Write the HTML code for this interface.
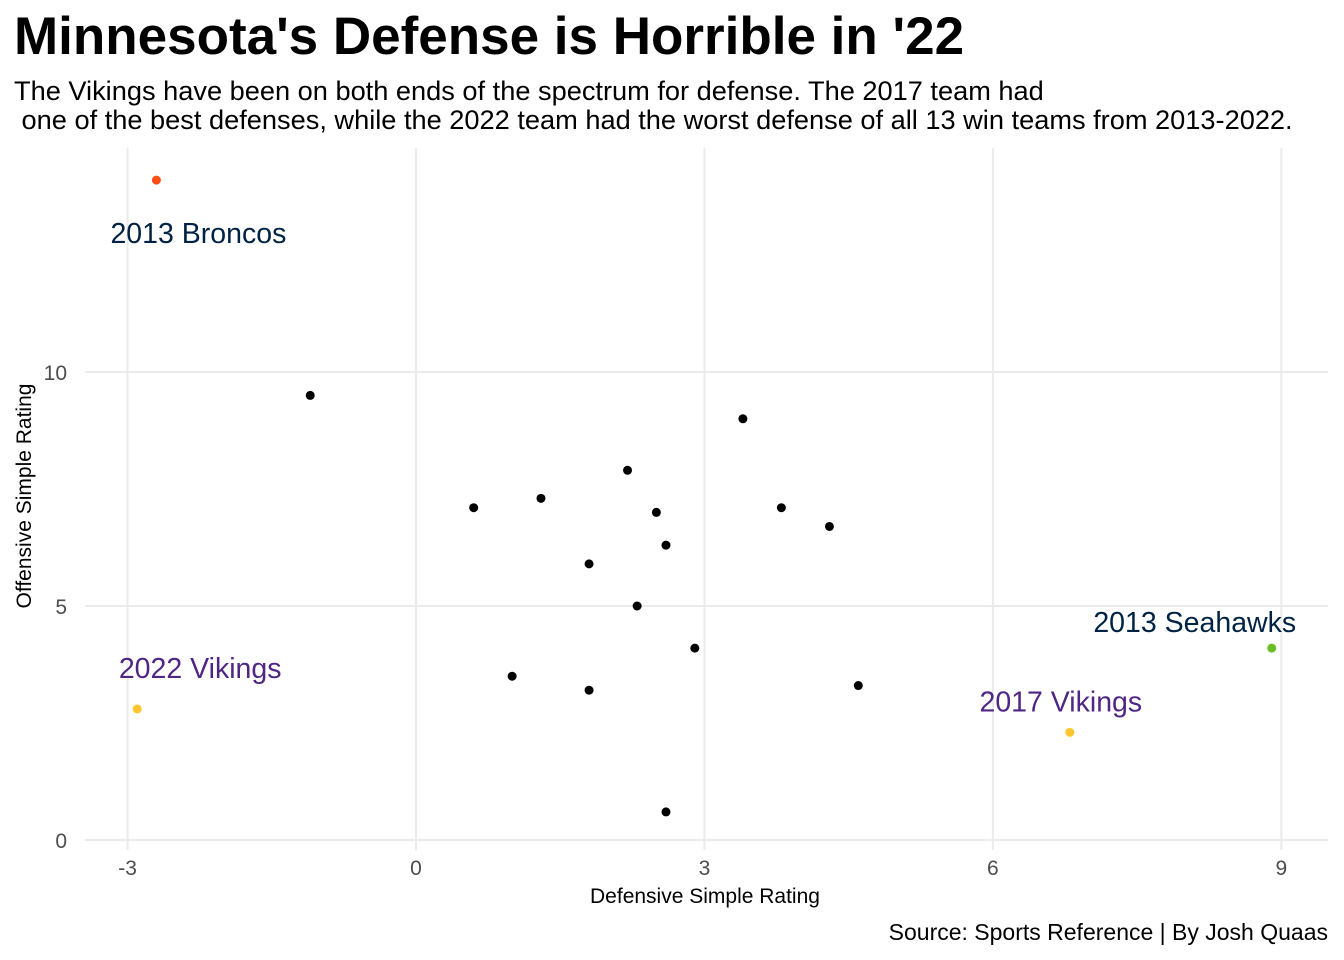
<!DOCTYPE html>
<html><head><meta charset="utf-8"><style>
body{margin:0;background:#fff;}
svg{display:block;font-family:"Liberation Sans",Arial,sans-serif;}
</style></head><body>
<svg id="chart" width="1344" height="960">
<text x="14" y="54" font-size="53" font-weight="bold" fill="#000">Minnesota's Defense is Horrible in '22</text>
<text x="14" y="100" font-size="27.2" fill="#000">The Vikings have been on both ends of the spectrum for defense. The 2017 team had</text>
<text x="14" y="129" font-size="27.2" fill="#000" xml:space="preserve"> one of the best defenses, while the 2022 team had the worst defense of all 13 win teams from 2013-2022.</text>
<g id="grid"></g><g id="axes"></g><g id="points"></g><g id="labels"></g>
<text x="705" y="903" font-size="21" text-anchor="middle" fill="#000">Defensive Simple Rating</text>
<text transform="translate(31,496) rotate(-90)" font-size="21" text-anchor="middle" fill="#000">Offensive Simple Rating</text>
<text x="1328" y="940" font-size="23" text-anchor="end" fill="#000">Source: Sports Reference | By Josh Quaas</text>
</svg>
<script>
const xs=[-1.1,3.4,2.2,0.6,1.3,2.5,3.8,4.3,2.6,1.8,2.3,2.9,1.0,1.8,4.6,2.6];
const ys=[9.5,9.0,7.9,7.1,7.3,7.0,7.1,6.7,6.3,5.9,5.0,4.1,3.5,3.2,3.3,0.6];
const hlNames=["2013 Broncos","2022 Vikings","2017 Vikings","2013 Seahawks"];
const hlX=[-2.7,-2.9,6.8,8.9];
const hlY=[14.1,2.8,2.3,4.1];
const xTicks=[-3,0,3,6,9];
const yTicks=[0,5,10];
const hlColors=["#FB4F14","#FFC62F","#FFC62F","#69BE28"];
const labelColors=["#002244","#4F2683","#4F2683","#002244"];
const labelOff=[[42,53],[63,-41],[-9,-31],[-77,-26]];
const NS="http://www.w3.org/2000/svg";
const sx=v=>416+v*96.15, sy=v=>840-v*46.8;
function mk(t,a,p){const e=document.createElementNS(NS,t);for(const k in a)e.setAttribute(k,a[k]);p.appendChild(e);return e;}
const grid=document.getElementById('grid'),axes=document.getElementById('axes'),pts=document.getElementById('points'),lab=document.getElementById('labels');
xTicks.forEach(t=>{
 const l=mk('line',{x1:sx(t),x2:sx(t),y1:148,y2:850,stroke:'#ebebeb','stroke-width':2},grid);
 
 
 const tx=mk('text',{x:sx(t),y:875,'font-size':21,'text-anchor':'middle',fill:'#4d4d4d'},axes);tx.textContent=t;
 
 
});
yTicks.forEach(t=>{
 const l=mk('line',{x1:85,x2:1328,y1:sy(t),y2:sy(t),stroke:'#ebebeb','stroke-width':2},grid);
 
 
 const tx=mk('text',{x:67,y:sy(t)+8,'font-size':21,'text-anchor':'end',fill:'#4d4d4d'},axes);tx.textContent=t;
 
 
});
xs.forEach((v,i)=>{
 const c=mk('circle',{cx:sx(v),cy:sy(ys[i]),r:4.5,fill:'#000'},pts);
 
 
});
hlX.forEach((v,i)=>{
 const c=mk('circle',{cx:sx(v),cy:sy(hlY[i]),r:4.5,fill:hlColors[i]},pts);
 
 
 const t=mk('text',{x:sx(v)+labelOff[i][0],y:sy(hlY[i])+labelOff[i][1]+10,'font-size':28.5,'text-anchor':'middle',fill:labelColors[i]},lab);
 t.textContent=hlNames[i];
 
 
});
</script>
</body></html>
